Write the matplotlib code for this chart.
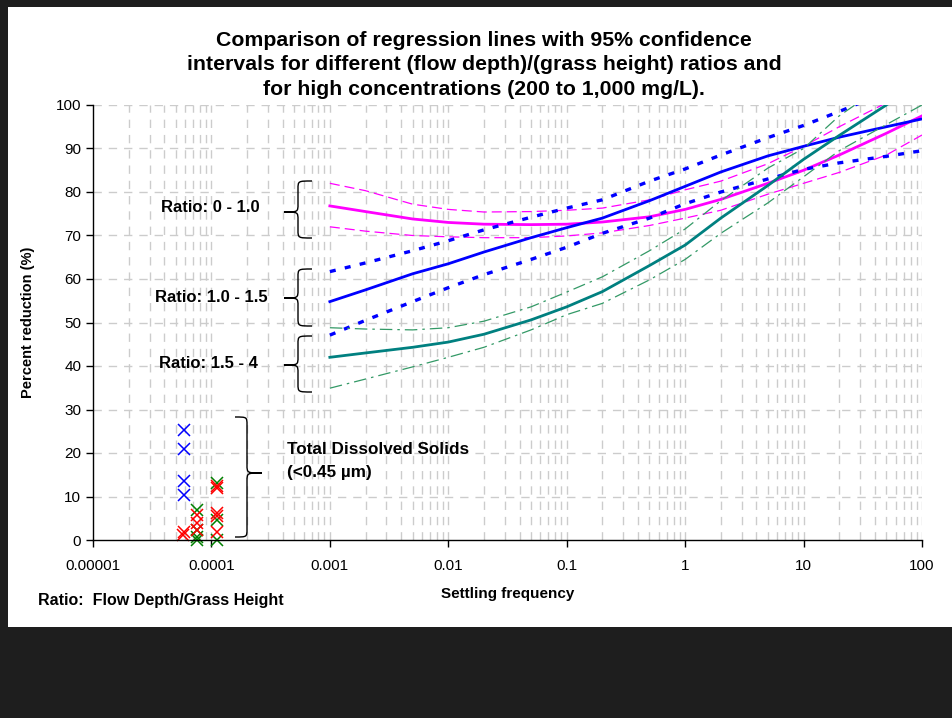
import numpy as np
import matplotlib
matplotlib.use("Agg")
import matplotlib.pyplot as plt
from matplotlib.path import Path
from matplotlib.patches import PathPatch, Rectangle

plt.rcParams['font.family'] = 'Liberation Sans'

# settling frequency points where the curves were read
freq = [0.001, 0.002, 0.005, 0.01, 0.02, 0.05, 0.1, 0.2, 0.5, 1, 2, 5, 10, 20, 50, 100]

# ratio 0 - 1.0 (magenta)
r1_fit = [76.8, 75.5, 73.8, 73.0, 72.6, 72.5, 72.6, 73.1, 74.3, 76.0, 78.3, 82.0, 85.0, 88.5, 93.5, 97.5]
r1_hi = [82.0, 80.3, 77.2, 76.0, 75.4, 75.5, 75.8, 76.3, 78.2, 80.5, 82.5, 86.5, 90.5, 95.0, 100.5, 106.0]
r1_lo = [72.0, 71.0, 70.0, 69.7, 69.5, 69.5, 69.9, 70.6, 72.3, 74.0, 75.8, 79.5, 82.0, 84.5, 88.5, 93.1]

# ratio 1.0 - 1.5 (blue)
r2_fit = [54.8, 57.5, 61.2, 63.5, 66.2, 69.5, 71.8, 74.0, 78.0, 81.3, 84.6, 88.3, 90.5, 92.6, 95.0, 96.8]
r2_hi = [61.7, 63.7, 66.5, 68.8, 71.3, 74.2, 76.3, 78.2, 82.5, 85.3, 88.5, 92.5, 95.3, 98.5, 103.0, 106.0]
r2_lo = [47.1, 50.5, 54.8, 58.0, 61.0, 64.5, 67.3, 70.5, 74.0, 77.3, 80.0, 83.0, 85.2, 86.7, 88.2, 89.5]

# ratio 1.5 - 4 (teal)
r3_fit = [42.0, 43.0, 44.3, 45.5, 47.3, 50.6, 53.6, 57.1, 63.1, 67.8, 74.0, 81.5, 87.5, 93.0, 100.0, 106.0]
r3_hi = [48.8, 48.5, 48.3, 48.8, 50.3, 53.6, 57.0, 60.5, 66.5, 71.5, 78.0, 85.5, 90.0, 97.5, 105.0, 112.0]
r3_lo = [34.9, 37.0, 39.8, 42.0, 44.3, 48.3, 51.8, 54.4, 59.8, 64.5, 70.5, 77.5, 83.5, 89.5, 95.5, 100.0]

# total dissolved solids points
tds_blue_x = [5.9e-5, 5.9e-5, 5.9e-5, 5.9e-5]
tds_blue_y = [25.2, 21.0, 13.6, 10.3]
tds_red_x = [5.9e-5, 5.7e-5, 7.6e-5, 7.6e-5, 7.6e-5, 1.12e-4, 1.12e-4, 1.12e-4, 1.12e-4, 1.12e-4]
tds_red_y = [1.9, 1.1, 5.7, 3.8, 2.3, 12.4, 11.9, 6.3, 5.5, 1.9]
tds_green_x = [7.6e-5, 7.6e-5, 7.6e-5, 7.6e-5, 1.12e-4, 1.12e-4, 1.12e-4]
tds_green_y = [6.9, 2.3, 0.8, 0.0, 13.0, 4.6, 0.0]

xticks = [1e-5, 1e-4, 1e-3, 1e-2, 1e-1, 1, 10, 100]
xtick_labels = ['0.00001', '0.0001', '0.001', '0.01', '0.1', '1', '10', '100']

W, H = 952, 718
fig = plt.figure(figsize=(W / 100, H / 100), dpi=100, facecolor='#1e1e1e')


def fx(px):
    return px / W


def fy(py):
    return 1 - py / H


# white chart area inside the dark frame
fig.patches.append(Rectangle((fx(8), fy(627)), fx(W - 8), (627 - 7) / H,
                             transform=fig.transFigure, facecolor='white',
                             edgecolor='none', zorder=-5))

ax = fig.add_axes([fx(93), fy(540), (922 - 93) / W, (540 - 105) / H])
ax.set_facecolor('white')
ax.set_xscale('log')
ax.set_xlim(1e-5, 100)
ax.set_ylim(0, 100)

# grid
grid_kw = dict(color='#cccccc', linewidth=1.0, dashes=(6, 5))
for yv in range(10, 101, 10):
    ax.axhline(yv, zorder=0, **grid_kw)
for dec in range(-5, 2):
    for m in range(1, 10):
        xv = m * 10.0 ** dec
        if xv > 1e-5:
            ax.axvline(xv, zorder=0, **grid_kw)
ax.axvline(100, zorder=0, **grid_kw)

# regression lines and confidence intervals
ax.plot(freq, r1_hi, color='#ff00ff', lw=0.9, dashes=(8, 4))
ax.plot(freq, r1_lo, color='#ff00ff', lw=0.9, dashes=(8, 4))
ax.plot(freq, r1_fit, color='#ff00ff', lw=2.0)

ax.plot(freq, r2_hi, color='#0000ff', lw=2.4, dashes=(1.8, 2.8))
ax.plot(freq, r2_lo, color='#0000ff', lw=2.4, dashes=(1.8, 2.8))
ax.plot(freq, r2_fit, color='#0000ff', lw=2.0)

ax.plot(freq, r3_hi, color='#339966', lw=0.9, dashes=(10, 4, 2, 4))
ax.plot(freq, r3_lo, color='#339966', lw=0.9, dashes=(10, 4, 2, 4))
ax.plot(freq, r3_fit, color='#008080', lw=2.0)

# TDS points
ax.plot(tds_blue_x, tds_blue_y, 'x', color='#0000ff', ms=8, mew=1.1, clip_on=False)
ax.plot(tds_green_x, tds_green_y, 'x', color='#008000', ms=8, mew=1.1, clip_on=False)
ax.plot(tds_red_x, tds_red_y, 'x', color='#ff0000', ms=8, mew=1.1, clip_on=False)

# axes styling
for s in ['top', 'right']:
    ax.spines[s].set_visible(False)
for s in ['left', 'bottom']:
    ax.spines[s].set_color('black')
    ax.spines[s].set_linewidth(1.0)
ax.set_xticks(xticks)
ax.set_xticklabels(xtick_labels)
ax.xaxis.set_minor_locator(matplotlib.ticker.NullLocator())
ax.set_yticks(range(0, 101, 10))
ax.tick_params(axis='both', direction='out', length=5, width=1, labelsize=11, colors='black')
ax.tick_params(axis='x', pad=9)

ax.set_ylabel('Percent reduction (%)', fontsize=10.5, fontweight='bold')
ax.yaxis.set_label_coords(-0.07, 0.5)
ax.set_xlabel('Settling frequency', fontsize=11, fontweight='bold', va='center')
ax.xaxis.set_label_coords(0.5, -0.124)

fig.text(fx(484), fy(65),
         'Comparison of regression lines with 95% confidence\n'
         'intervals for different (flow depth)/(grass height) ratios and\n'
         'for high concentrations (200 to 1,000 mg/L).',
         ha='center', va='center', fontsize=15.3, fontweight='bold',
         linespacing=1.36)

fig.text(fx(38), fy(601), 'Ratio:  Flow Depth/Grass Height', ha='left', va='center',
         fontsize=11.5, fontweight='bold')


def brace(xa, xm, xt, y0, y1, yc, w=8):
    # curly brace in pixel coords, arms at xa, spine at xm, tip at xt
    pts = [(xa, y0), (xm, y0), (xm, y0), (xm, y0 + w),
           (xm, yc - w),
           (xm, yc), (xm, yc), (xt, yc),
           (xm, yc), (xm, yc), (xm, yc + w),
           (xm, y1 - w),
           (xm, y1), (xm, y1), (xa, y1)]
    codes = [Path.MOVETO, Path.CURVE4, Path.CURVE4, Path.CURVE4,
             Path.LINETO,
             Path.CURVE4, Path.CURVE4, Path.CURVE4,
             Path.CURVE4, Path.CURVE4, Path.CURVE4,
             Path.LINETO,
             Path.CURVE4, Path.CURVE4, Path.CURVE4]
    verts = [(fx(x), fy(y)) for x, y in pts]
    fig.patches.append(PathPatch(Path(verts, codes), transform=fig.transFigure,
                                 facecolor='none', edgecolor='black', lw=1.0))


brace(312, 298, 284, 181, 238, 212)
brace(312, 298, 284, 269, 326, 298)
brace(312, 298, 284, 336, 392, 365)
brace(235, 247, 262, 417, 537, 473)

lab_kw = dict(ha='center', va='center', fontsize=12, fontweight='bold')
fig.text(fx(210), fy(207), 'Ratio: 0 - 1.0', **lab_kw)
fig.text(fx(211), fy(298), 'Ratio: 1.0 - 1.5', **lab_kw)
fig.text(fx(208), fy(364), 'Ratio: 1.5 - 4', **lab_kw)
fig.text(fx(287), fy(450), 'Total Dissolved Solids', ha='left', va='center',
         fontsize=12.3, fontweight='bold')
fig.text(fx(287), fy(472), '(<0.45 µm)', ha='left', va='center',
         fontsize=12.3, fontweight='bold')

fig.savefig('out.png', dpi=100, facecolor=fig.get_facecolor())
